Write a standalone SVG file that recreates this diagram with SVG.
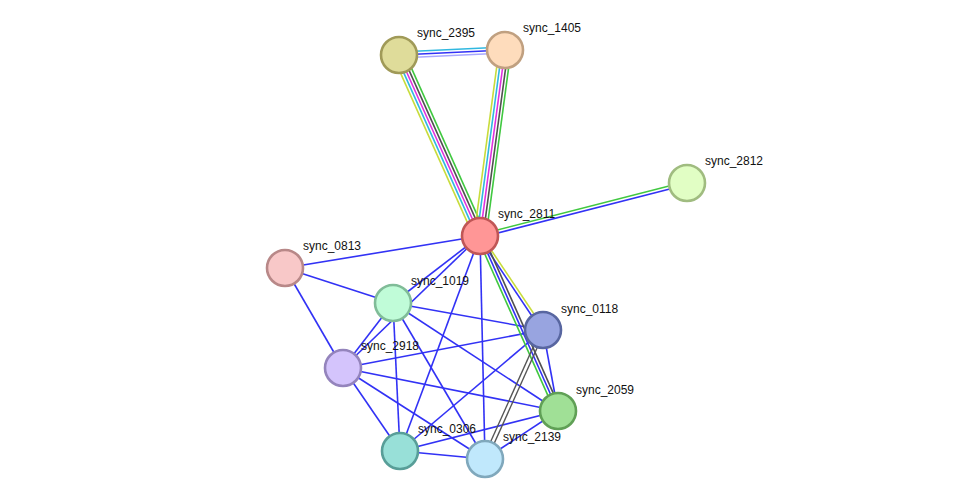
<svg xmlns="http://www.w3.org/2000/svg" width="976" height="504" viewBox="0 0 976 504">
<style>
.e{stroke-width:1.6;fill:none}
.b{stroke:#3232f5}
.n{stroke-width:2.6}
text{font-family:"Liberation Sans",Arial,sans-serif;font-size:12px;fill:#111}
</style>
<rect width="976" height="504" fill="#fff"/>
<g id="connectors" class="e">
<line class="b" x1="480" y1="236" x2="285" y2="268"/>
<line class="b" x1="480" y1="236" x2="393" y2="303"/>
<line class="b" x1="480" y1="236" x2="343" y2="368"/>
<line class="b" x1="480" y1="236" x2="400" y2="451"/>
<line class="b" x1="480" y1="236" x2="485" y2="459"/>
<line class="b" x1="285" y1="268" x2="393" y2="303"/>
<line class="b" x1="285" y1="268" x2="343" y2="368"/>
<line class="b" x1="393" y1="303" x2="343" y2="368"/>
<line class="b" x1="393" y1="303" x2="543" y2="330"/>
<line class="b" x1="393" y1="303" x2="558" y2="411"/>
<line class="b" x1="393" y1="303" x2="400" y2="451"/>
<line class="b" x1="393" y1="303" x2="485" y2="459"/>
<line class="b" x1="343" y1="368" x2="543" y2="330"/>
<line class="b" x1="343" y1="368" x2="558" y2="411"/>
<line class="b" x1="343" y1="368" x2="400" y2="451"/>
<line class="b" x1="343" y1="368" x2="485" y2="459"/>
<line class="b" x1="543" y1="330" x2="400" y2="451"/>
<line class="b" x1="543" y1="330" x2="558" y2="411"/>
<line class="b" x1="400" y1="451" x2="558" y2="411"/>
<line class="b" x1="400" y1="451" x2="485" y2="459"/>
<line class="b" x1="485" y1="459" x2="558" y2="411"/>
<!-- 2395-2811 -->
<line stroke="#c8dc3c" x1="393.5" y1="57.4" x2="474.5" y2="238.4"/>
<line stroke="#30b8e0" x1="396.3" y1="56.2" x2="477.3" y2="237.2"/>
<line stroke="#e030e0" x1="399" y1="55" x2="480" y2="236"/>
<line stroke="#505050" x1="401.7" y1="53.8" x2="482.7" y2="234.8"/>
<line stroke="#40c840" x1="404.5" y1="52.6" x2="485.5" y2="233.6"/>
<!-- 1405-2811 -->
<line stroke="#c8dc3c" x1="499.1" y1="49.2" x2="474.1" y2="235.2"/>
<line stroke="#30b8e0" x1="502" y1="49.6" x2="477" y2="235.6"/>
<line stroke="#e030e0" x1="505" y1="50" x2="480" y2="236"/>
<line stroke="#505050" x1="508" y1="50.4" x2="483" y2="236.4"/>
<line stroke="#40c840" x1="510.9" y1="50.8" x2="485.9" y2="236.8"/>
<!-- 2395-1405 -->
<line stroke="#30b8e0" x1="398.9" y1="52" x2="504.9" y2="47"/>
<line stroke="#3232f5" x1="399" y1="55" x2="505" y2="50"/>
<line stroke="#a8a8ff" x1="399.1" y1="58" x2="505.1" y2="53"/>
<!-- 2811-2812 -->
<line stroke="#40c840" x1="479.6" y1="234.5" x2="686.6" y2="181.5"/>
<line stroke="#3232f5" x1="480.4" y1="237.5" x2="687.4" y2="184.5"/>
<!-- 2811-0118 -->
<line stroke="#c8dc3c" x1="481.2" y1="235.2" x2="544.2" y2="329.2"/>
<line stroke="#3232f5" x1="478.8" y1="236.8" x2="541.8" y2="330.8"/>
<!-- 2811-2059 -->
<line stroke="#40c840" x1="477.3" y1="237.2" x2="555.3" y2="412.2"/>
<line stroke="#3232f5" x1="480" y1="236" x2="558" y2="411"/>
<line stroke="#505050" x1="482.7" y1="234.8" x2="560.7" y2="409.8"/>
<!-- 0118-2139 -->
<line stroke="#555" stroke-width="1.4" x1="541.2" y1="329.2" x2="483.2" y2="458.2"/>
<line stroke="#555" stroke-width="1.4" x1="544.8" y1="330.8" x2="486.8" y2="459.8"/>
</g>
<g id="sync_2395"><circle class="n" cx="399" cy="55" r="18" fill="#dfdc9a" stroke="#a09a58"/><text x="417" y="37">sync_2395</text></g>
<g id="sync_1405"><circle class="n" cx="505" cy="50" r="18" fill="#fedcbc" stroke="#c0a080"/><text x="523" y="32">sync_1405</text></g>
<g id="sync_2812"><circle class="n" cx="687" cy="183" r="18" fill="#e1fec4" stroke="#a0bc80"/><text x="705" y="165">sync_2812</text></g>
<g id="sync_2811"><circle class="n" cx="480" cy="236" r="18" fill="#ff9696" stroke="#c05656"/><text x="498" y="218">sync_2811</text></g>
<g id="sync_0813"><circle class="n" cx="285" cy="268" r="18" fill="#f8c8c8" stroke="#b88888"/><text x="303" y="250">sync_0813</text></g>
<g id="sync_1019"><circle class="n" cx="393" cy="303" r="18" fill="#c0fcd8" stroke="#80bc98"/><text x="411" y="285">sync_1019</text></g>
<g id="sync_0118"><circle class="n" cx="543" cy="330" r="18" fill="#98a4e0" stroke="#5866a0"/><text x="561" y="313">sync_0118</text></g>
<g id="sync_2918"><circle class="n" cx="343" cy="368" r="18" fill="#d4c4fc" stroke="#9484bc"/><text x="361" y="350">sync_2918</text></g>
<g id="sync_2059"><circle class="n" cx="558" cy="411" r="18" fill="#a0e096" stroke="#60a056"/><text x="576" y="394">sync_2059</text></g>
<g id="sync_0306"><circle class="n" cx="400" cy="451" r="18" fill="#98e0d8" stroke="#589e98"/><text x="418" y="433">sync_0306</text></g>
<g id="sync_2139"><circle class="n" cx="485" cy="459" r="18" fill="#c0e8fc" stroke="#80a8bc"/><text x="503" y="441">sync_2139</text></g>
</svg>
